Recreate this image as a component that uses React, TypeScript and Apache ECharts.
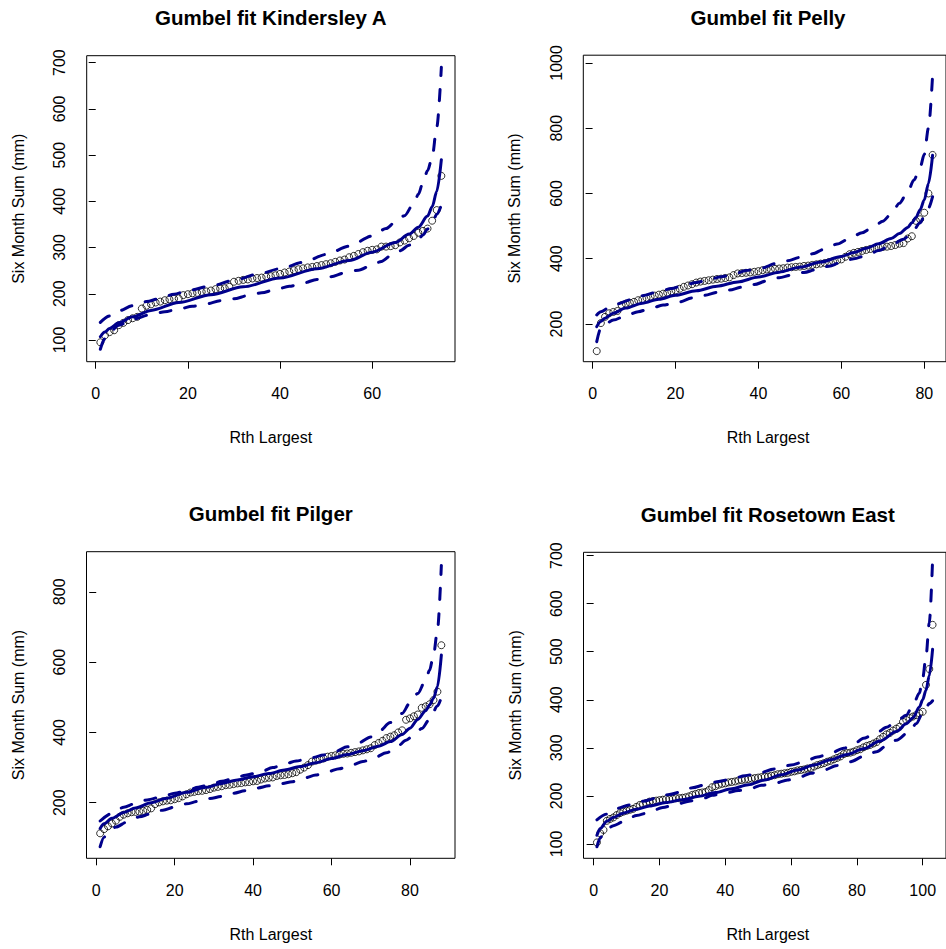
import React, { useEffect, useRef } from "react";
import * as echarts from "echarts";

// ---------- data ----------
const kinTitle = "Gumbel fit Kindersley A";
const kinPoints = [95,110,117,121,132,137,143,147,150,168,174,177,181,183,186,188,189,190,197,199,201,202,204,205,207,210,211,212,215,226,228,230,231,233,234,235,237,238,240,243,246,248,251,253,255,257,258,260,262,264,266,269,272,274,279,282,286,290,293,295,296,302,302,303,305,311,315,320,325,332,336,341,358,381,455];
const kinFit = [[1,107],[2,117],[3,125],[5,137],[8,150],[12,164],[18,181],[25,198],[32,215],[40,234],[48,254],[55,272],[60,290],[65,311],[68,329],[70,344],[72,368],[73,388],[74,421],[75,490]];
const kinUpper = [[1,138],[3,152],[5,163],[8,174],[11,183],[14,190],[17,199],[20,207],[25,217],[30,229],[35,242],[40,254],[45,268],[50,285],[55,303],[60,325],[63,341],[65,355],[67,369],[69,395],[70,415],[71,440],[72,466],[73,495],[74,560],[75,690]];
const kinLower = [[1,80],[2,103],[3,117],[5,132],[8,145],[12,155],[15,161],[18,167],[21,173],[24,178],[27,185],[30,189],[33,196],[36,202],[39,209],[42,216],[45,223],[48,231],[51,237],[54,245],[57,251],[60,262],[62,270],[64,282],[66,293],[68,305],[70,318],[71,327],[72,340],[73,353],[74,372],[75,392]];
const kinXTicks = [0, 20, 40, 60];
const kinYTicks = [100, 200, 300, 400, 500, 600, 700];

const pelTitle = "Gumbel fit Pelly";
const pelPoints = [117,203,222,233,237,240,258,262,265,268,273,276,280,284,287,290,293,296,300,303,308,314,318,322,327,330,332,334,336,338,339,341,343,350,355,356,357,358,360,362,365,367,367,369,370,371,373,374,375,376,378,379,381,383,385,387,390,392,395,398,406,414,418,421,424,427,430,432,434,436,437,439,442,446,448,462,469,516,521,541,600,718];
const pelFit = [[1,192],[2,208],[3,218],[5,233],[8,249],[12,264],[16,276],[20,288],[25,302],[30,316],[35,329],[40,344],[45,359],[50,374],[55,390],[60,407],[63,419],[66,432],[69,446],[72,462],[74,477],[76,496],[77,510],[78,527],[79,550],[80,580],[81,630],[82,717]];
const pelUpper = [[1,228],[2,238],[4,250],[6,262],[9,274],[12,287],[16,299],[19,309],[22,319],[25,327],[28,336],[31,345],[34,352],[37,364],[41,372],[44,385],[47,394],[50,404],[53,415],[56,430],[59,445],[62,462],[65,480],[68,500],[70,515],[72,537],[74,570],[76,605],[77.5,641],[79,680],[80,720],[81,800],[82,960]];
const pelLower = [[1,146],[2,188],[3,200],[5,212],[8,225],[11,238],[14,248],[17,258],[21,268],[24,280],[27,288],[30,297],[33,304],[36,313],[39,321],[42,332],[45,342],[48,350],[51,358],[54,367],[57,377],[60,389],[63,400],[66,410],[69,425],[72,442],[75,460],[77,480],[79,510],[80,530],[81,555],[82,590]];
const pelXTicks = [0, 20, 40, 60, 80];
const pelYTicks = [200, 400, 600, 800, 1000];

const pilTitle = "Gumbel fit Pilger";
const pilPoints = [113,125,133,141,149,160,166,170,173,174,175,177,180,184,196,201,204,206,207,210,213,218,224,229,231,233,234,236,239,243,245,247,250,251,253,255,256,258,259,261,262,266,269,271,272,276,278,279,281,284,287,294,300,307,317,320,323,326,331,333,335,337,339,340,342,344,346,349,352,355,364,370,376,384,388,392,400,406,436,440,446,451,470,474,480,492,516,648];
const pilFit = [[1,127],[2,140],[4,156],[7,172],[10,185],[14,200],[18,213],[23,230],[28,244],[32,255],[36,265],[40,274],[44,283],[48,293],[52,303],[56,314],[60,326],[64,337],[68,348],[72,361],[75,374],[78,394],[80,412],[82,437],[84,462],[85,478],[86,497],[87,530],[88,620]];
const pilUpper = [[1,148],[4,170],[7,187],[10,198],[13,208],[17,218],[20,227],[23,234],[26,244],[29,251],[32,261],[35,269],[38,278],[42,288],[45,300],[48,310],[51,319],[55,328],[58,336],[61,346],[64,359],[67,371],[70,387],[72,402],[75,428],[78,454],[80,484],[82,511],[84,549],[85,577],[86,620],[87,690],[88,875]];
const pilLower = [[1,75],[2,102],[3,116],[5,131],[8,146],[11,160],[14,169],[17,179],[20,188],[23,197],[26,204],[29,212],[32,218],[35,227],[38,234],[41,242],[44,248],[47,254],[50,260],[53,270],[56,279],[59,288],[62,297],[65,307],[68,317],[71,329],[74,342],[77,362],[79,378],[81,392],[83,411],[85,437],[87,475],[88,500]];
const pilXTicks = [0, 20, 40, 60, 80];
const pilYTicks = [200, 400, 600, 800];

const rosTitle = "Gumbel fit Rosetown East";
const rosPoints = [103,122,129,148,152,155,160,164,167,169,171,173,177,181,183,185,188,189,190,191,192,193,193,194,195,195,196,197,199,202,204,206,207,208,212,218,220,223,225,226,228,229,230,232,233,234,235,236,237,238,239,240,240,242,243,245,246,247,248,250,251,253,254,255,257,258,261,264,266,268,271,273,276,279,282,287,289,290,292,295,297,301,304,306,309,312,318,323,328,331,336,340,344,354,358,362,365,368,372,375,431,464,556];
const rosFit = [[1,118],[2,132],[4,147],[6,155],[9,164],[13,172],[17,179],[22,186],[27,192],[32,199],[37,207],[42,215],[47,223],[52,233],[57,244],[62,254],[67,264],[72,275],[77,286],[82,298],[87,314],[92,334],[95,350],[97,362],[99,385],[100,400],[101,420],[102,450],[103,505]];
const rosUpper = [[1,150],[4,162],[7,174],[11,181],[15,189],[19,195],[23,203],[27,209],[30,217],[34,223],[38,230],[42,235],[46,242],[50,247],[55,256],[60,264],[64,271],[68,281],[72,289],[76,299],[79,307],[82,320],[86,331],[89,343],[92,355],[95,368],[97,388],[99,414],[100,445],[101,490],[102,560],[103,690]];
const rosLower = [[1,94],[2,112],[3,122],[6,138],[9,146],[13,159],[17,166],[21,176],[25,182],[29,189],[33,194],[36,201],[40,206],[44,211],[48,216],[51,222],[55,226],[59,233],[63,240],[66,247],[70,254],[74,263],[78,271],[82,282],[86,292],[89,304],[92,316],[96,334],[98,350],[100,372],[101,383],[102,392],[103,398]];
const rosXTicks = [0, 20, 40, 60, 80, 100];
const rosYTicks = [100, 200, 300, 400, 500, 600, 700];

const xName = "Rth Largest";
const yName = "Six Month Sum (mm)";

// ---------- layout / style ----------
const FONT = '"Liberation Sans", Arial, Helvetica, sans-serif';
const BLUE = "#00008B";

const panels = [
  { title: kinTitle, pts: kinPoints, fit: kinFit, up: kinUpper, lo: kinLower, xt: kinXTicks, yt: kinYTicks,
    xlim: [-1.96, 77.96], ylim: [53, 715], grid: { left: 86.7, top: 55.7, width: 368.3, height: 306 } },
  { title: pelTitle, pts: pelPoints, fit: pelFit, up: pelUpper, lo: pelLower, xt: pelXTicks, yt: pelYTicks,
    xlim: [-2.24, 85.24], ylim: [84.6, 1023.6], grid: { left: 583.3, top: 55.2, width: 369.5, height: 306.5 } },
  { title: pilTitle, pts: pilPoints, fit: pilFit, up: pilUpper, lo: pilLower, xt: pilXTicks, yt: pilYTicks,
    xlim: [-2.48, 91.48], ylim: [42, 914], grid: { left: 86.5, top: 551.7, width: 368.5, height: 306.6 } },
  { title: rosTitle, pts: rosPoints, fit: rosFit, up: rosUpper, lo: rosLower, xt: rosXTicks, yt: rosYTicks,
    xlim: [-3.08, 107.08], ylim: [70, 707], grid: { left: 583.5, top: 552.3, width: 368.7, height: 306 } },
];

function buildOption() {
  const grid: any[] = [];
  const xAxis: any[] = [];
  const yAxis: any[] = [];
  const series: any[] = [];
  const graphic: any[] = [];
  const labelStyle = { color: "#000", fontSize: 16, fontFamily: FONT };
  const plain = (v: number) => String(v);

  panels.forEach((p, i) => {
    grid.push({ ...p.grid, show: true, borderColor: "#000", borderWidth: 1, backgroundColor: "transparent", containLabel: false });
    xAxis.push({
      type: "value", gridIndex: i, min: p.xlim[0], max: p.xlim[1],
      axisLine: { show: false },
      axisTick: { show: true, inside: false, length: 7, lineStyle: { color: "#000", width: 1 }, customValues: p.xt },
      axisLabel: { ...labelStyle, margin: 24, customValues: p.xt, hideOverlap: false, formatter: plain },
      splitLine: { show: false },
    });
    yAxis.push({
      type: "value", gridIndex: i, min: p.ylim[0], max: p.ylim[1],
      axisLine: { show: false },
      axisTick: { show: true, inside: false, length: 7, lineStyle: { color: "#000", width: 1 }, customValues: p.yt },
      axisLabel: { ...labelStyle, margin: 19, rotate: 90, customValues: p.yt, hideOverlap: false, formatter: plain },
      splitLine: { show: false },
    });
    series.push({
      type: "scatter", xAxisIndex: i, yAxisIndex: i, silent: true,
      data: p.pts.map((v, k) => [k + 1, v]),
      symbol: "circle", symbolSize: 7,
      itemStyle: { color: "rgba(0,0,0,0)", borderColor: "#000", borderWidth: 1 },
      z: 2,
    });
    const lineBase = { type: "line", xAxisIndex: i, yAxisIndex: i, silent: true, showSymbol: false, symbol: "none", smooth: 0.3, smoothMonotone: "x", z: 3 };
    series.push({ ...lineBase, data: p.fit, lineStyle: { color: BLUE, width: 3, cap: "round" } });
    series.push({ ...lineBase, data: p.up, lineStyle: { color: BLUE, width: 3, type: [11, 14], cap: "round" } });
    series.push({ ...lineBase, data: p.lo, lineStyle: { color: BLUE, width: 3, type: [11, 14], cap: "round" } });

    const cx = p.grid.left + p.grid.width / 2;
    const cy = p.grid.top + p.grid.height / 2;
    graphic.push({
      type: "text", x: cx, y: p.grid.top - 38,
      style: { text: p.title, fill: "#000", fontSize: 20.5, fontWeight: "bold", fontFamily: FONT, align: "center", verticalAlign: "middle" },
    });
    graphic.push({
      type: "text", x: cx, y: p.grid.top + p.grid.height + 76,
      style: { text: xName, fill: "#000", fontSize: 16, fontFamily: FONT, align: "center", verticalAlign: "middle" },
    });
    graphic.push({
      type: "text", x: p.grid.left - 68.5, y: cy, rotation: Math.PI / 2,
      style: { text: yName, fill: "#000", fontSize: 16, fontFamily: FONT, align: "center", verticalAlign: "middle" },
    });
  });

  return { animation: false, backgroundColor: "#fff", grid, xAxis, yAxis, series, graphic };
}

export default function App() {
  const ref = useRef<HTMLDivElement>(null);
  useEffect(() => {
    const chart = echarts.init(ref.current as HTMLDivElement, null, { renderer: "svg" });
    chart.setOption(buildOption() as any);
    return () => chart.dispose();
  }, []);
  return (
    <div
      ref={ref}
      style={{ position: "absolute", left: 0, top: 0, width: 946, height: 949, background: "#fff" }}
    />
  );
}
